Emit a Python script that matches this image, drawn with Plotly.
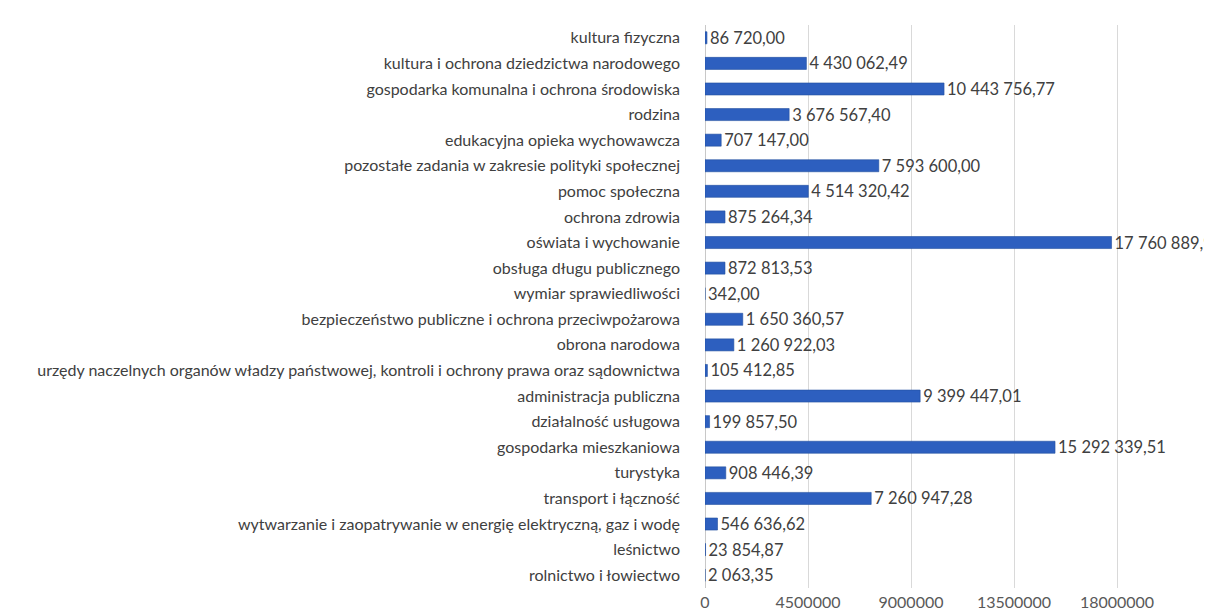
import plotly.graph_objects as go

categories = [
    "rolnictwo i łowiectwo",
    "leśnictwo",
    "wytwarzanie i zaopatrywanie w energię elektryczną, gaz i wodę",
    "transport i łączność",
    "turystyka",
    "gospodarka mieszkaniowa",
    "działalność usługowa",
    "administracja publiczna",
    "urzędy naczelnych organów władzy państwowej, kontroli i ochrony prawa oraz sądownictwa",
    "obrona narodowa",
    "bezpieczeństwo publiczne i ochrona przeciwpożarowa",
    "wymiar sprawiedliwości",
    "obsługa długu publicznego",
    "oświata i wychowanie",
    "ochrona zdrowia",
    "pomoc społeczna",
    "pozostałe zadania w zakresie polityki społecznej",
    "edukacyjna opieka wychowawcza",
    "rodzina",
    "gospodarka komunalna i ochrona środowiska",
    "kultura i ochrona dziedzictwa narodowego",
    "kultura fizyczna",
]

values = [
    2063.35, 23854.87, 546636.62, 7260947.28, 908446.39, 15292339.51,
    199857.50, 9399447.01, 105412.85, 1260922.03, 1650360.57, 342.00,
    872813.53, 17760889.97, 875264.34, 4514320.42, 7593600.00, 707147.00,
    3676567.40, 10443756.77, 4430062.49, 86720.00,
]

tick_values = [0, 4500000, 9000000, 13500000, 18000000]


def pl_fmt(v):
    s = f"{v:,.2f}"
    s = s.replace(",", " ").replace(".", ",")
    return s


labels = [pl_fmt(v) for v in values]

FONT = "Lato, Open Sans, sans-serif"

fig = go.Figure(
    go.Bar(
        x=values,
        y=categories,
        orientation="h",
        marker=dict(color="#2d5fbf", line=dict(color="#24509f", width=0.6)),
        text=labels,
        textposition="outside",
        constraintext="none",
        cliponaxis=False,
        textfont=dict(family=FONT, size=16.5, color="#404040"),
    )
)

# page body has an 8px margin, so the figure is sized 1204x602
fig.update_layout(
    width=1204,
    height=602,
    margin=dict(l=697, r=0, t=17, b=22, autoexpand=False),
    paper_bgcolor="white",
    plot_bgcolor="white",
    bargap=0.53,
    showlegend=False,
    font=dict(family=FONT, size=16, color="#404040"),
)

fig.update_xaxes(
    range=[0, 22150000],
    tickvals=tick_values,
    ticktext=[str(t) for t in tick_values],
    showgrid=True,
    gridcolor="#d9d9d9",
    gridwidth=1,
    zeroline=True,
    zerolinecolor="#c8c8c8",
    zerolinewidth=1,
    showline=False,
    automargin=False,
    tickfont=dict(family=FONT, size=16, color="#595959"),
    ticklabelstandoff=3,
)

fig.update_yaxes(
    categoryorder="array",
    categoryarray=categories,
    showgrid=False,
    showline=False,
    ticks="",
    automargin=False,
    ticklabelstandoff=24,
    tickfont=dict(family=FONT, size=16, color="#404040"),
)

fig.write_html("out.html")
